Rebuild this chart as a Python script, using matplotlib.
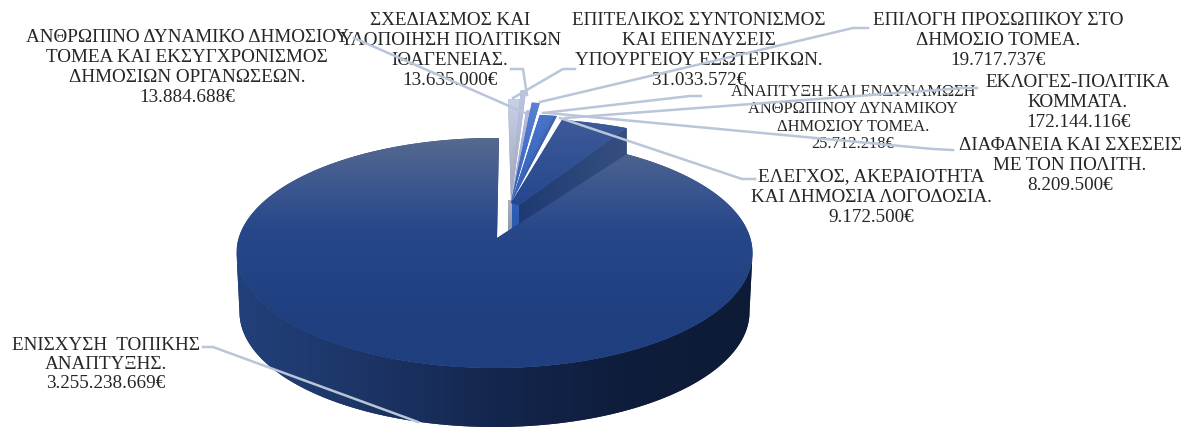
import numpy as np
import matplotlib
matplotlib.use("Agg")
import matplotlib.pyplot as plt
from matplotlib.patches import Polygon
from matplotlib.colors import LinearSegmentedColormap as LSC

# ---- data (clockwise from the top of the pie) ----
names = ["ΕΠΙΤΕΛΙΚΟΣ ΣΥΝΤΟΝΙΣΜΟΣ\nΚΑΙ ΕΠΕΝΔΥΣΕΙΣ\nΥΠΟΥΡΓΕΙΟΥ ΕΣΩΤΕΡΙΚΩΝ.",
         "ΣΧΕΔΙΑΣΜΟΣ ΚΑΙ\nΥΛΟΠΟΙΗΣΗ ΠΟΛΙΤΙΚΩΝ\nΙΘΑΓΕΝΕΙΑΣ.",
         "ΑΝΘΡΩΠΙΝΟ ΔΥΝΑΜΙΚΟ ΔΗΜΟΣΙΟΥ\nΤΟΜΕΑ ΚΑΙ ΕΚΣΥΓΧΡΟΝΙΣΜΟΣ\nΔΗΜΟΣΙΩΝ ΟΡΓΑΝΩΣΕΩΝ.",
         "ΕΠΙΛΟΓΗ ΠΡΟΣΩΠΙΚΟΥ ΣΤΟ\nΔΗΜΟΣΙΟ ΤΟΜΕΑ.",
         "ΑΝΑΠΤΥΞΗ ΚΑΙ ΕΝΔΥΝΑΜΩΣΗ\nΑΝΘΡΩΠΙΝΟΥ ΔΥΝΑΜΙΚΟΥ\nΔΗΜΟΣΙΟΥ ΤΟΜΕΑ.",
         "ΔΙΑΦΑΝΕΙΑ ΚΑΙ ΣΧΕΣΕΙΣ\nΜΕ ΤΟΝ ΠΟΛΙΤΗ.",
         "ΕΛΕΓΧΟΣ, ΑΚΕΡΑΙΟΤΗΤΑ\nΚΑΙ ΔΗΜΟΣΙΑ ΛΟΓΟΔΟΣΙΑ.",
         "ΕΚΛΟΓΕΣ-ΠΟΛΙΤΙΚΑ\nΚΟΜΜΑΤΑ.",
         "ΕΝΙΣΧΥΣΗ  ΤΟΠΙΚΗΣ\nΑΝΑΠΤΥΞΗΣ."]
values = [31033572, 13635000, 13884688, 19717737, 25712218,
          8209500, 9172500, 172144116, 3255238669]
value_text = ["31.033.572€", "13.635.000€", "13.884.688€", "19.717.737€", "25.712.218€",
              "8.209.500€", "9.172.500€", "172.144.116€", "3.255.238.669€"]

# ---- styles / layout ----
START = 1.0
label_xy = [(699, 20.5), (450, 20.5), (187, 38), (998, 20.5), (853, 92),
            (1070, 146), (871, 177), (1078, 82.5), (106, 345)]
label_fs = [13.8, 13.8, 13.8, 13.8, 11.9, 13.8, 13.8, 13.8, 13.8]
label_pitch = [20, 20, 20, 20, 17.3, 20, 20, 20, 19.5]
top_cols = ["#c9d1e8", "#bcc5e0", "#b4bee0", "#5c80d2", "#4a74cc", "#4a72c4", "#4568b0", "#3e5a98"]
bot_cols = ["#9aa2b8", "#a0a8c0", "#9aa4c4", "#3060b8", "#2f5fba", "#2f5cb4", "#2f58a8", "#25478e"]
reach = [91, 100, 80, 88, 76, 76, 76, 72]
leaders = [[(575, 69), (563, 69), (513, 98)],
           [(511, 69), (523, 69), (527, 95)],
           [(354, 38), (525, 113)],
           [(868, 28), (853, 28), (540, 102)],
           [(701, 96), (690, 96), (543, 113)],
           [(953, 150), (933, 149), (548, 113)],
           [(755, 179), (742, 179), (560, 118)],
           [(977, 88), (964, 88), (565, 118)],
           [(203, 347), (213, 347), (418, 422)]]

fig = plt.figure(figsize=(12, 4.3), dpi=100)
ax = fig.add_axes([0, 0, 1, 1])
ax.set_xlim(0, 1200)
ax.set_ylim(430, 0)
ax.axis("off")

total = sum(values)
edges = START + 360 * np.cumsum([0] + values) / total


def grad(pts, cols, horizontal=False, z=2):
    pts = np.asarray(pts)
    patch = Polygon(pts, closed=True, fc=cols[len(cols) // 2], ec="none", zorder=z)
    ax.add_patch(patch)
    g = np.linspace(0, 1, 256)
    g = g.reshape(1, -1) if horizontal else g.reshape(-1, 1)
    x0, x1, y0, y1 = pts[:, 0].min(), pts[:, 0].max(), pts[:, 1].min(), pts[:, 1].max()
    im = ax.imshow(g, cmap=LSC.from_list("g", cols), extent=[x0, x1, y1, y0],
                   aspect="auto", zorder=z, interpolation="bilinear")
    im.set_clip_path(patch)
    ax.set_xlim(0, 1200)
    ax.set_ylim(430, 0)


def arc(t0, t1, cx, cy, rx, ry, n=240):
    t = np.radians(np.linspace(t0, t1, n))
    return np.c_[cx + rx * np.sin(t), cy - ry * np.cos(t)]


# small slices
GX, GCY, GRX = 504, 190, 230
APEX = np.array([511, 203])
# front walls below the apex
grad([(508, 200), (512, 200), (512, 236), (508, 236)], ["#aab0c2", "#8a92a8"], z=1.5)
grad([(512, 200), (521, 205), (521, 232), (512, 236)], ["#2f60b8", "#2a58aa"], z=1.5)
# cut wall of the largest small slice
p8 = arc(edges[8], edges[8], GX + 5, GCY, GRX, reach[7], 1)[0]
grad([(519, 205), p8, (p8[0], p8[1] + 46), (519, 251)], ["#1e3a72", "#35507f"], horizontal=True, z=1.6)
for i in range(8):
    off = 5 if i == 7 else 0
    a = arc(edges[i], edges[i + 1], GX + off, GCY, GRX, reach[i], 30)
    grad(np.vstack([[APEX], a, [(519, 205)]]) if i == 7 else np.vstack([[APEX], a]),
         [top_cols[i], bot_cols[i]], z=2 + i * 0.01)

# main slice
CX, CY, RX, RY = 494.5, 253, 258, 115
grad(np.vstack([arc(90, 270, CX, CY, RX, RY), arc(270, 90, CX, 312, 255, 115)]),
     ["#22407a", "#1c3566", "#14264e", "#0f1d3c", "#0e1b36"], horizontal=True, z=3)
top = arc(edges[8], edges[9], CX, CY, RX, RY, 400)
grad(np.vstack([[(497, 238)], top]),
     ["#56698f", "#3d5890", "#274789", "#224384", "#1f3f7f", "#1f3f7f"], z=4)

# labels and leaders
for name, val, (x, y), fs, pitch in zip(names, value_text, label_xy, label_fs, label_pitch):
    lines = name.split("\n") + [val]
    for k, line in enumerate(lines):
        ax.text(x, y + k * pitch, line, ha="center", va="center", fontsize=fs,
                family="Liberation Serif", color="#262626", zorder=6)
for pts in leaders:
    pts = np.array(pts)
    ax.plot(pts[:, 0], pts[:, 1], color="#b9c5d9", lw=1.8, zorder=7, solid_joinstyle="round")

fig.savefig("out.png", dpi=100)
